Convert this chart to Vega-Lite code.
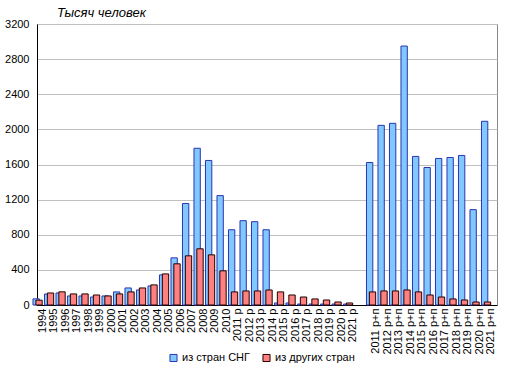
{
  "$schema": "https://vega.github.io/schema/vega-lite/v6.json",
  "autosize": {"type": "none"},
  "padding": {"left": 37, "top": 24, "right": 25, "bottom": 78},
  "width": 460,
  "height": 281,
  "background": "white",
  "config": {
    "font": "Liberation Sans",
    "view": {"stroke": "#888888", "strokeWidth": 1}
  },
  "title": {
    "text": "Тысяч человек",
    "anchor": "start",
    "frame": "group",
    "fontStyle": "italic",
    "fontWeight": "normal",
    "fontSize": 13,
    "font": "Liberation Sans",
    "color": "#000000",
    "dx": 20,
    "offset": -2
  },
  "data": {
    "values": [
      {"year": "1994", "series": "из стран СНГ", "value": 70},
      {"year": "1995", "series": "из стран СНГ", "value": 125},
      {"year": "1996", "series": "из стран СНГ", "value": 137},
      {"year": "1997", "series": "из стран СНГ", "value": 103},
      {"year": "1998", "series": "из стран СНГ", "value": 103},
      {"year": "1999", "series": "из стран СНГ", "value": 91},
      {"year": "2000", "series": "из стран СНГ", "value": 103},
      {"year": "2001", "series": "из стран СНГ", "value": 149},
      {"year": "2002", "series": "из стран СНГ", "value": 194},
      {"year": "2003", "series": "из стран СНГ", "value": 171},
      {"year": "2004", "series": "из стран СНГ", "value": 217},
      {"year": "2005", "series": "из стран СНГ", "value": 343},
      {"year": "2006", "series": "из стран СНГ", "value": 537},
      {"year": "2007", "series": "из стран СНГ", "value": 1156},
      {"year": "2008", "series": "из стран СНГ", "value": 1785},
      {"year": "2009", "series": "из стран СНГ", "value": 1646},
      {"year": "2010", "series": "из стран СНГ", "value": 1246},
      {"year": "2011 р", "series": "из стран СНГ", "value": 857},
      {"year": "2012 р", "series": "из стран СНГ", "value": 960},
      {"year": "2013 р", "series": "из стран СНГ", "value": 949},
      {"year": "2014 р", "series": "из стран СНГ", "value": 857},
      {"year": "2015 р", "series": "из стран СНГ", "value": 23},
      {"year": "2016 р", "series": "из стран СНГ", "value": 23},
      {"year": "2017 р", "series": "из стран СНГ", "value": 11},
      {"year": "2018 р", "series": "из стран СНГ", "value": 11},
      {"year": "2019 р", "series": "из стран СНГ", "value": 11},
      {"year": "2020 р", "series": "из стран СНГ", "value": 11},
      {"year": "2021 р", "series": "из стран СНГ", "value": 11},
      {"year": "2011 р+п", "series": "из стран СНГ", "value": 1623},
      {"year": "2012 р+п", "series": "из стран СНГ", "value": 2046},
      {"year": "2013 р+п", "series": "из стран СНГ", "value": 2069},
      {"year": "2014 р+п", "series": "из стран СНГ", "value": 2949},
      {"year": "2015 р+п", "series": "из стран СНГ", "value": 1692},
      {"year": "2016 р+п", "series": "из стран СНГ", "value": 1566},
      {"year": "2017 р+п", "series": "из стран СНГ", "value": 1669},
      {"year": "2018 р+п", "series": "из стран СНГ", "value": 1680},
      {"year": "2019 р+п", "series": "из стран СНГ", "value": 1703},
      {"year": "2020 р+п", "series": "из стран СНГ", "value": 1086},
      {"year": "2021 р+п", "series": "из стран СНГ", "value": 2092},
      {"year": "1994", "series": "из других стран", "value": 55},
      {"year": "1995", "series": "из других стран", "value": 137},
      {"year": "1996", "series": "из других стран", "value": 150},
      {"year": "1997", "series": "из других стран", "value": 126},
      {"year": "1998", "series": "из других стран", "value": 126},
      {"year": "1999", "series": "из других стран", "value": 114},
      {"year": "2000", "series": "из других стран", "value": 103},
      {"year": "2001", "series": "из других стран", "value": 126},
      {"year": "2002", "series": "из других стран", "value": 149},
      {"year": "2003", "series": "из других стран", "value": 194},
      {"year": "2004", "series": "из других стран", "value": 229},
      {"year": "2005", "series": "из других стран", "value": 354},
      {"year": "2006", "series": "из других стран", "value": 469},
      {"year": "2007", "series": "из других стран", "value": 560},
      {"year": "2008", "series": "из других стран", "value": 640},
      {"year": "2009", "series": "из других стран", "value": 571},
      {"year": "2010", "series": "из других стран", "value": 389},
      {"year": "2011 р", "series": "из других стран", "value": 149},
      {"year": "2012 р", "series": "из других стран", "value": 160},
      {"year": "2013 р", "series": "из других стран", "value": 160},
      {"year": "2014 р", "series": "из других стран", "value": 171},
      {"year": "2015 р", "series": "из других стран", "value": 149},
      {"year": "2016 р", "series": "из других стран", "value": 114},
      {"year": "2017 р", "series": "из других стран", "value": 91},
      {"year": "2018 р", "series": "из других стран", "value": 69},
      {"year": "2019 р", "series": "из других стран", "value": 57},
      {"year": "2020 р", "series": "из других стран", "value": 34},
      {"year": "2021 р", "series": "из других стран", "value": 23},
      {"year": "2011 р+п", "series": "из других стран", "value": 149},
      {"year": "2012 р+п", "series": "из других стран", "value": 160},
      {"year": "2013 р+п", "series": "из других стран", "value": 160},
      {"year": "2014 р+п", "series": "из других стран", "value": 171},
      {"year": "2015 р+п", "series": "из других стран", "value": 149},
      {"year": "2016 р+п", "series": "из других стран", "value": 114},
      {"year": "2017 р+п", "series": "из других стран", "value": 91},
      {"year": "2018 р+п", "series": "из других стран", "value": 69},
      {"year": "2019 р+п", "series": "из других стран", "value": 57},
      {"year": "2020 р+п", "series": "из других стран", "value": 34},
      {"year": "2021 р+п", "series": "из других стран", "value": 34}
    ]
  },
  "mark": {"type": "bar", "width": {"band": 2.2}, "strokeWidth": 1},
  "encoding": {
    "x": {
      "field": "year",
      "type": "nominal",
      "sort": null,
      "scale": {
        "domain": ["1994","1995","1996","1997","1998","1999","2000","2001","2002","2003","2004","2005","2006","2007","2008","2009","2010","2011 р","2012 р","2013 р","2014 р","2015 р","2016 р","2017 р","2018 р","2019 р","2020 р","2021 р"," ","2011 р+п","2012 р+п","2013 р+п","2014 р+п","2015 р+п","2016 р+п","2017 р+п","2018 р+п","2019 р+п","2020 р+п","2021 р+п"],
        "paddingInner": 0,
        "paddingOuter": 0
      },
      "axis": {
        "title": null,
        "labelAngle": -90,
        "labelFontSize": 11,
        "labelColor": "#000000",
        "labelPadding": 3,
        "ticks": false,
        "domainColor": "#000000",
        "domainWidth": 1,
        "grid": false
      }
    },
    "xOffset": {
      "field": "series",
      "type": "nominal",
      "sort": ["из стран СНГ", "из других стран"],
      "scale": {"paddingInner": 0, "paddingOuter": 1.05}
    },
    "y": {
      "field": "value",
      "type": "quantitative",
      "scale": {"domain": [0, 3200], "nice": false},
      "axis": {
        "title": null,
        "format": "d",
        "values": [0, 400, 800, 1200, 1600, 2000, 2400, 2800, 3200],
        "labelFontSize": 11,
        "labelColor": "#000000",
        "labelPadding": 8,
        "ticks": false,
        "domainColor": "#000000",
        "domainWidth": 1,
        "gridColor": "#c0c0c0",
        "gridWidth": 1
      }
    },
    "color": {
      "field": "series",
      "type": "nominal",
      "sort": ["из стран СНГ", "из других стран"],
      "scale": {"domain": ["из стран СНГ", "из других стран"], "range": ["#80c8ff", "#ff8080"]},
      "legend": {
        "title": null,
        "orient": "none",
        "direction": "horizontal",
        "legendX": 131,
        "legendY": 328,
        "symbolType": "square",
        "symbolSize": 50,
        "symbolStrokeWidth": 1,
        "labelFontSize": 11,
        "labelColor": "#000000",
        "labelOffset": 3,
        "columnPadding": 10
      }
    },
    "stroke": {
      "field": "series",
      "type": "nominal",
      "scale": {"domain": ["из стран СНГ", "из других стран"], "range": ["#2a36b0", "#200000"]},
      "legend": null
    }
  }
}
